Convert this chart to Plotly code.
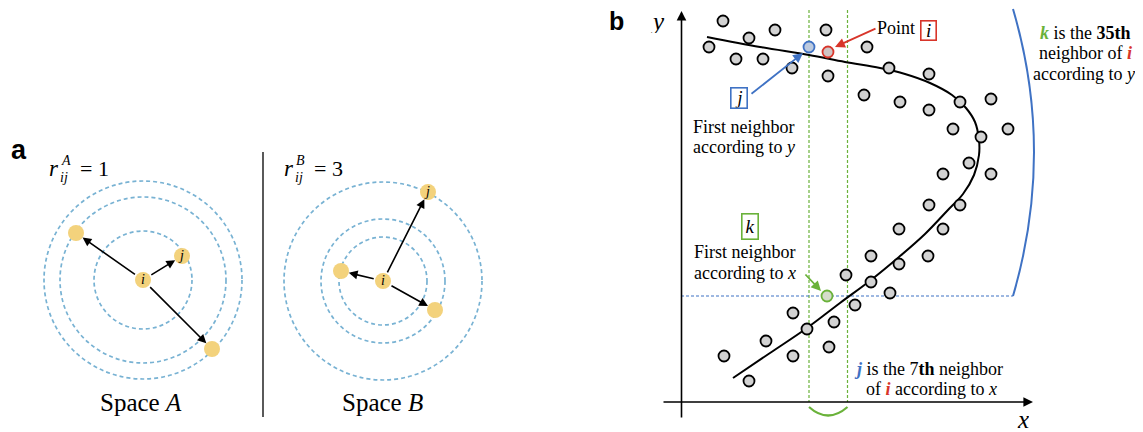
import plotly.graph_objects as go

W, H = 1143, 432
OFF = 8  # default body margin of the html page
SERIF = "Liberation Serif"
SANS = "Liberation Sans"
BLUE = "#3f72c4"
RED = "#d8352a"
GREEN = "#6ab23a"
LBLUE = "#78b2d3"
GOLD = "#f3d27c"

# ---------------- panel a data ----------------
a_center = (143, 280)
a_radii = [49, 83, 99]
a_pts_x = [182, 76, 212]
a_pts_y = [256, 233, 349]
a_pts_lab = ["j", "", ""]

b_center = (383, 281)
b_radii = [44, 62, 99]
b_pts_x = [428, 341, 435]
b_pts_y = [192, 271, 310]
b_pts_lab = ["j", "", ""]

# ---------------- panel b data ----------------
gray_x = [723, 775, 826, 749, 709, 736, 763, 792, 828, 867, 864,
          889, 929, 900, 929, 960, 991, 953, 1008, 981,
          969, 943, 991, 929, 960, 899, 943,
          871, 928, 899, 846, 871, 890,
          855, 793, 834, 807, 766, 829, 724, 793, 749]
gray_y = [21, 30, 30, 38, 47, 59, 59, 68, 76, 47, 95,
          68, 74, 102, 110, 102, 99, 129, 129, 137,
          163, 174, 174, 205, 205, 229, 229,
          256, 256, 264, 275, 282, 293,
          305, 313, 322, 329, 341, 347, 356, 356, 381]
pt_i = (828, 52)
pt_j = (809, 47)
pt_k = (827, 296)

curve_x = [707, 760, 809, 845, 880, 905, 930, 952, 966, 975, 979, 979, 974, 963, 947, 925, 899, 871, 840, 807, 770, 733]
curve_y = [37, 47, 55, 62, 68, 74, 83, 95, 108, 122, 140, 155, 175, 194, 211, 234, 257, 280, 303, 328, 353, 378]

fig = go.Figure()

shapes = []
annotations = []

def circ(cx, cy, r, color, dash, width=1.6):
    shapes.append(dict(type="circle", xref="x", yref="y", x0=cx - r, x1=cx + r, y0=cy - r, y1=cy + r,
                       line=dict(color=color, width=width, dash=dash), layer="below"))

for c, radii in [(a_center, a_radii), (b_center, b_radii)]:
    for r in radii:
        circ(c[0], c[1], r, LBLUE, "4px,3px", 1.7)

# divider
shapes.append(dict(type="line", x0=263, x1=263, y0=152, y1=417, line=dict(color="black", width=1.3)))

# panel a points
for c, px, py, lab in [(a_center, a_pts_x, a_pts_y, a_pts_lab), (b_center, b_pts_x, b_pts_y, b_pts_lab)]:
    for x, y in zip(px, py):
        annotations.append(dict(x=x, y=y, ax=c[0], ay=c[1], xref="x", yref="y", axref="x", ayref="y",
                                text="", showarrow=True, arrowhead=2, arrowsize=1.1, arrowwidth=1.6,
                                arrowcolor="black", standoff=8, startstandoff=8))
    fig.add_trace(go.Scatter(x=[c[0]] + px, y=[c[1]] + py, mode="markers+text",
                             marker=dict(size=16, color=GOLD, line=dict(width=0)),
                             text=["i"] + lab, textposition="middle center",
                             textfont=dict(family=SERIF, size=14, color="black", style="italic"),
                             hoverinfo="skip", showlegend=False))

def txt(x, y, s, size=18, family=SERIF, color="black", xanchor="center", **kw):
    d = dict(x=x, y=y, xref="x", yref="y", text=s, showarrow=False,
             font=dict(family=family, size=size, color=color), xanchor=xanchor, yanchor="middle")
    d.update(kw)
    annotations.append(d)

txt(19, 150, "<b>a</b>", size=27, family=SANS)
txt(616, 21, "<b>b</b>", size=25, family=SANS, height=24, valign="middle")

# r labels
txt(54, 168, "<i>r</i>", size=23)
txt(59, 160, "<i>A</i>", size=14, xanchor="left")
txt(58, 177, "<i>ij</i>", size=14, xanchor="left")
txt(94, 168, "= 1", size=22)
txt(289, 168, "<i>r</i>", size=23)
txt(294, 160, "<i>B</i>", size=14, xanchor="left")
txt(293, 177, "<i>ij</i>", size=14, xanchor="left")
txt(328, 168, "= 3", size=22)

txt(141, 402, "Space <i>A</i>", size=25)
txt(382, 402, "Space <i>B</i>", size=25)

# ---------- panel b ----------
# axes
annotations.append(dict(x=681.5, y=11, ax=681.5, ay=419, xref="x", yref="y", axref="x", ayref="y",
                        text="", showarrow=True, arrowhead=2, arrowsize=1.2, arrowwidth=1.6, arrowcolor="black"))
annotations.append(dict(x=1033, y=402, ax=662, ay=402, xref="x", yref="y", axref="x", ayref="y",
                        text="", showarrow=True, arrowhead=2, arrowsize=1.2, arrowwidth=1.6, arrowcolor="black"))
txt(657, 21, "<i>y</i>", size=25, height=24, valign="middle")
txt(1023, 419, "<i>x</i>", size=25, height=24, valign="middle")

# dotted guides
for xv in [809, 847.5]:
    shapes.append(dict(type="line", x0=xv, x1=xv, y0=10, y1=402,
                       line=dict(color=GREEN, width=1.2, dash="3px,2px"), layer="below"))
shapes.append(dict(type="line", x0=681, x1=1013, y0=296, y1=296,
                   line=dict(color=BLUE, width=1.2, dash="3px,2px"), layer="below"))
# green bracket
shapes.append(dict(type="path", path="M 809 407 Q 828 424 847.5 407",
                   line=dict(color=GREEN, width=2.2)))
# blue arc
shapes.append(dict(type="path", path="M 1013 9 Q 1055 152 1013 296",
                   line=dict(color=BLUE, width=2)))

# curve
fig.add_trace(go.Scatter(x=curve_x, y=curve_y, mode="lines",
                         line=dict(color="black", width=2, shape="spline", smoothing=1.0),
                         hoverinfo="skip", showlegend=False))

# points
fig.add_trace(go.Scatter(x=gray_x, y=gray_y, mode="markers",
                         marker=dict(size=11, color="#d2d2d2", line=dict(color="black", width=1.8)),
                         hoverinfo="skip", showlegend=False))
for (px, py), fill, edge in [(pt_j, "#bccadf", BLUE), (pt_i, "#cfc4c4", RED), (pt_k, "#d4dccb", GREEN)]:
    fig.add_trace(go.Scatter(x=[px], y=[py], mode="markers",
                             marker=dict(size=11, color=fill, line=dict(color=edge, width=1.8)),
                             hoverinfo="skip", showlegend=False))

# callouts
def arrow(x0, y0, x1, y1, color):
    annotations.append(dict(x=x1, y=y1, ax=x0, ay=y0, xref="x", yref="y", axref="x", ayref="y",
                            text="", showarrow=True, arrowhead=2, arrowsize=1.1, arrowwidth=1.8, arrowcolor=color))

arrow(877, 28, 835, 47, RED)
arrow(750, 95, 803, 53, BLUE)
arrow(804, 273, 821, 291, GREEN)

def boxed(x, y, s, color, w, h, size=19):
    annotations.append(dict(x=x, y=y, xref="x", yref="y", text="<i>" + s + "</i>", showarrow=False,
                            font=dict(family=SERIF, size=size, color="black"), bordercolor=color, borderwidth=1.6,
                            borderpad=0, width=w, height=h, xanchor="center", yanchor="middle",
                            valign="middle", bgcolor="white"))

txt(917, 28, "Point", size=18, xanchor="right")
boxed(928, 30.5, "i", RED, 14, 18)
boxed(739, 97.5, "j", BLUE, 15, 19, size=18)
boxed(749.5, 226.5, "k", GREEN, 15, 24)

txt(744, 127, "First neighbor")
txt(744, 147, "according to <i>y</i>")
txt(745, 252, "First neighbor")
txt(745, 273, "according to <i>x</i>")

txt(1085, 33, f"<b><i><span style='color:{GREEN}'>k</span></i></b> is the <b>35th</b>")
txt(1085, 53, f"neighbor of <b><i><span style='color:{RED}'>i</span></i></b>")
txt(1084, 74, "according to <i>y</i>")
txt(928, 369, f"<b><i><span style='color:{BLUE}'>j</span></i></b> is the 7<b>th</b> neighbor")
txt(931, 389, f"of <b><i><span style='color:{RED}'>i</span></i></b> according to <i>x</i>")

fig.update_layout(width=W, height=H, autosize=False, margin=dict(l=0, r=0, t=0, b=0),
                  paper_bgcolor="white", plot_bgcolor="white",
                  xaxis=dict(range=[OFF, W + OFF], visible=False, fixedrange=True),
                  yaxis=dict(range=[H + OFF, OFF], visible=False, fixedrange=True),
                  shapes=shapes, annotations=annotations, showlegend=False)
fig.write_html("out.html", config={"displayModeBar": False})
